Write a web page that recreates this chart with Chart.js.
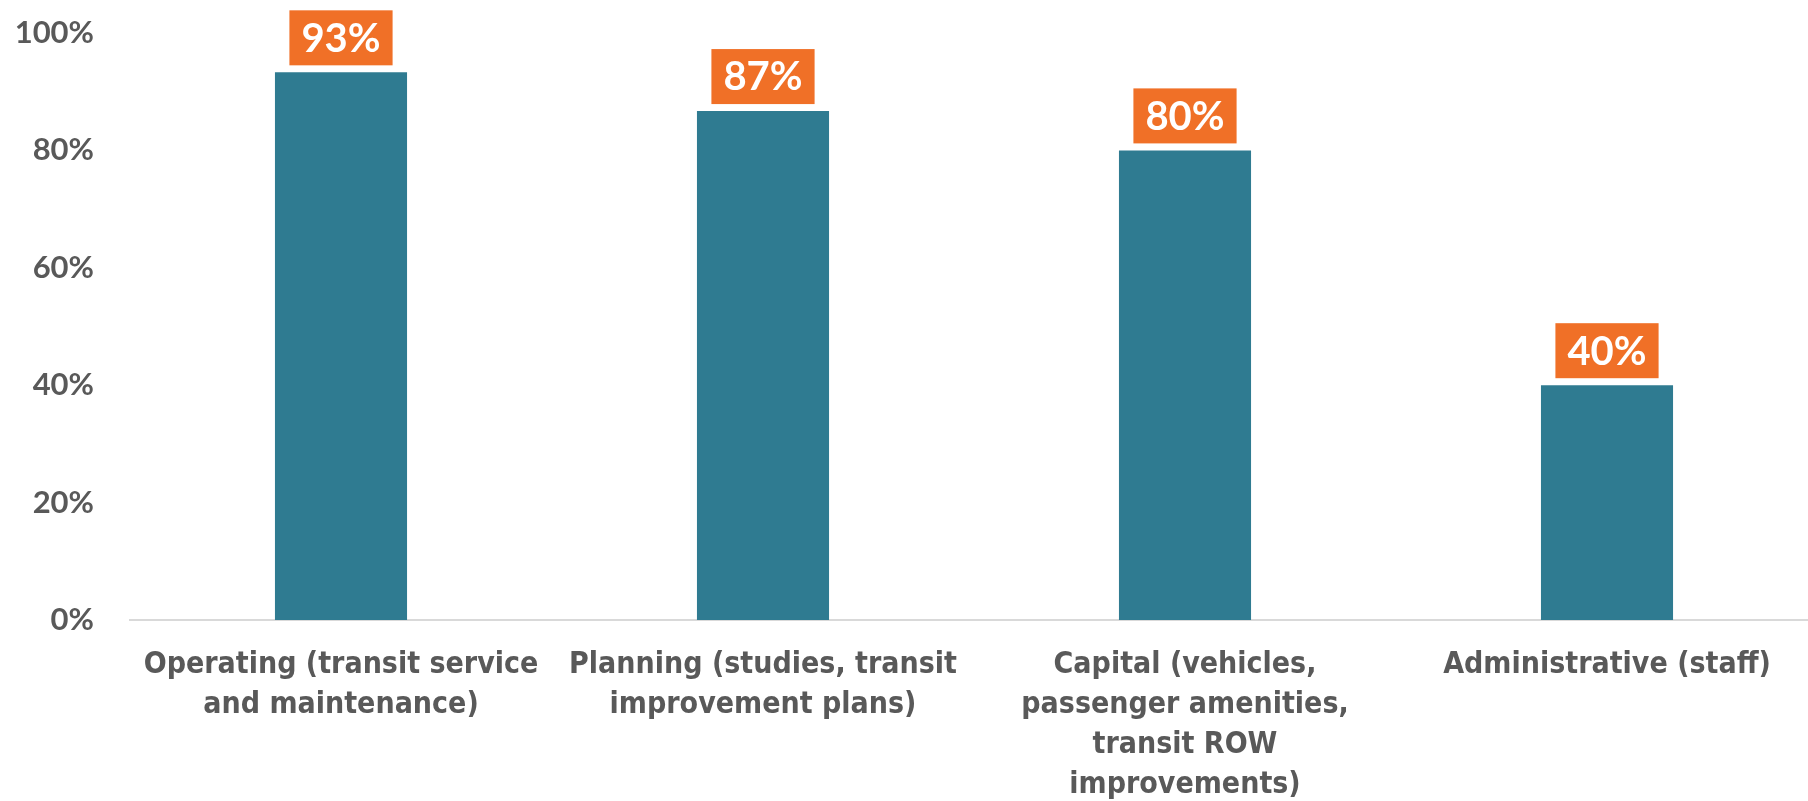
<!DOCTYPE html>
<html>
<head>
<meta charset="utf-8">
<script src="https://cdn.jsdelivr.net/npm/chart.js@4.4.0/dist/chart.umd.min.js"></script>
<style>
  html, body { margin: 0; padding: 0; background: #fff; overflow: hidden; }
  canvas { display: block; }
</style>
</head>
<body>
<canvas id="fundChart" width="1818" height="801"></canvas>
<script>
const categories = [
  ["Operating (transit service", "and maintenance)"],
  ["Planning (studies, transit", "improvement plans)"],
  ["Capital (vehicles,", "passenger amenities,", "transit ROW", "improvements)"],
  ["Administrative (staff)"]
];
const shares = [93.3, 86.7, 80, 40];
const yTicks = [0, 20, 40, 60, 80, 100];

const barColor = "#2f7b91";
const boxColor = "#f07027";
const textGray = "#595959";

// orange value boxes above each bar
const valueBoxes = {
  id: "valueBoxes",
  afterDatasetsDraw(chart) {
    const c = chart.ctx;
    const meta = chart.getDatasetMeta(0);
    c.save();
    c.font = "bold 40px Lato";
    c.textAlign = "center";
    c.textBaseline = "middle";
    meta.data.forEach((bar, i) => {
      const txt = Math.round(shares[i]) + "%";
      const w = c.measureText(txt).width + 24;
      const h = 55;
      const bottom = bar.y - 7;
      c.fillStyle = boxColor;
      c.fillRect(bar.x - w / 2, bottom - h, w, h);
      c.fillStyle = "#fff";
      c.fillText(txt, bar.x, bottom - h / 2 + 1);
    });
    c.restore();
  }
};

const chart = new Chart(document.getElementById("fundChart").getContext("2d"), {
  type: "bar",
  data: {
    labels: categories,
    datasets: [{
      data: shares,
      backgroundColor: barColor,
      categoryPercentage: 1,
      barPercentage: 0.313
    }]
  },
  options: {
    responsive: false,
    animation: false,
    layout: { padding: { top: 33, right: 0, left: 0, bottom: 0 } },
    plugins: {
      legend: { display: false },
      tooltip: { enabled: false }
    },
    scales: {
      x: {
        grid: { display: false, drawTicks: false },
        border: { color: "#d9d9d9", width: 2 },
        ticks: {
          color: textGray,
          font: { family: "'DejaVu Sans Condensed', 'Liberation Sans'", weight: "bold", size: 30, lineHeight: 1.34 },
          padding: 25,
          maxRotation: 0,
          autoSkip: false
        },
        afterFit(scale) { scale.height = 181; }
      },
      y: {
        min: 0,
        max: 100,
        grid: { display: false, drawTicks: false },
        border: { display: false },
        afterBuildTicks(scale) { scale.ticks = yTicks.map(v => ({ value: v })); },
        ticks: {
          color: textGray,
          font: { family: "Lato", weight: "bold", size: 31 },
          padding: 36,
          callback: v => v + "%"
        },
        afterFit(scale) {
          scale.width = 130;
          scale.paddingTop = 0;
          scale.paddingBottom = 0;
        }
      }
    }
  },
  plugins: [valueBoxes]
});
</script>
</body>
</html>
